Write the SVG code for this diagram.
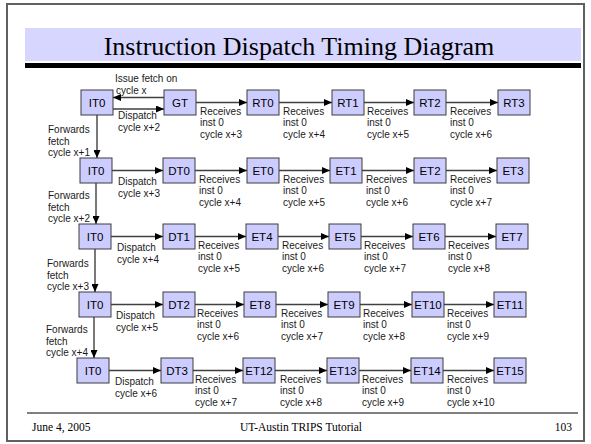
<svg xmlns="http://www.w3.org/2000/svg" width="591" height="444" viewBox="0 0 591 444">
<style>
.n rect{fill:#CCCCFF;stroke:#3c3c3c;stroke-width:1}
.n text{font-family:"Liberation Sans",Arial,sans-serif;font-size:11.5px;fill:#000;text-anchor:middle}
.lb{font-family:"Liberation Sans",Arial,sans-serif;font-size:10px;fill:#1a1a1a}
.ft{font-family:"Liberation Serif","Times New Roman",serif;font-size:11.5px;fill:#000}
#edges line{stroke:#404040;stroke-width:1.4;marker-end:url(#ah)}
</style>
<defs>
<marker id="ah" markerUnits="userSpaceOnUse" markerWidth="8" markerHeight="7" refX="8" refY="3.5" orient="auto">
<path d="M0,0 L8,3.5 L0,7 z" fill="#000"/>
</marker>
</defs>
<rect x="0" y="0" width="591" height="444" fill="#fff"/>
<rect x="7" y="4" width="577" height="437" fill="none" stroke="#606060" stroke-width="2"/>
<rect x="25" y="28" width="556" height="33" fill="#D6D6FF"/>
<rect x="25" y="63" width="556" height="5" fill="#000"/>
<text x="299" y="55" font-family="Liberation Serif,'Times New Roman',serif" font-size="26" text-anchor="middle" fill="#000">Instruction Dispatch Timing Diagram</text>
<line x1="27" y1="413" x2="578" y2="413" stroke="#000" stroke-width="1"/>
<text class="ft" x="32" y="431">June 4, 2005</text>
<text class="ft" x="301" y="431" text-anchor="middle">UT-Austin TRIPS Tutorial</text>
<text class="ft" x="572" y="431" text-anchor="end">103</text>

<g id="edges">
<!-- row 1 -->
<line x1="164" y1="97.5" x2="113" y2="97.5"/>
<line x1="113" y1="109" x2="164" y2="109"/>
<line x1="196" y1="102.5" x2="247" y2="102.5"/>
<line x1="279" y1="102.5" x2="332" y2="102.5"/>
<line x1="364" y1="102.5" x2="414" y2="102.5"/>
<line x1="446" y1="102.5" x2="498" y2="102.5"/>
<!-- verticals -->
<line x1="97" y1="115" x2="97" y2="158"/>
<line x1="96" y1="183" x2="96" y2="224"/>
<line x1="95" y1="249" x2="95" y2="292"/>
<line x1="94" y1="317" x2="94" y2="358"/>
<!-- row 2 -->
<line x1="112" y1="170.5" x2="163" y2="170.5"/>
<line x1="195" y1="170.5" x2="247" y2="170.5"/>
<line x1="279" y1="170.5" x2="330" y2="170.5"/>
<line x1="362" y1="170.5" x2="414" y2="170.5"/>
<line x1="446" y1="170.5" x2="497" y2="170.5"/>
<!-- row 3 -->
<line x1="111" y1="236.5" x2="163" y2="236.5"/>
<line x1="195" y1="236.5" x2="246" y2="236.5"/>
<line x1="278" y1="236.5" x2="329" y2="236.5"/>
<line x1="361" y1="236.5" x2="413" y2="236.5"/>
<line x1="445" y1="236.5" x2="496" y2="236.5"/>
<!-- row 4 -->
<line x1="111" y1="304.5" x2="163" y2="304.5"/>
<line x1="195" y1="304.5" x2="244" y2="304.5"/>
<line x1="276" y1="304.5" x2="328" y2="304.5"/>
<line x1="360" y1="304.5" x2="412" y2="304.5"/>
<line x1="444" y1="304.5" x2="494" y2="304.5"/>
<!-- row 5 -->
<line x1="109" y1="370.5" x2="161" y2="370.5"/>
<line x1="193" y1="370.5" x2="243" y2="370.5"/>
<line x1="275" y1="370.5" x2="327" y2="370.5"/>
<line x1="359" y1="370.5" x2="411" y2="370.5"/>
<line x1="443" y1="370.5" x2="494" y2="370.5"/>
</g>

<!-- row 1 nodes -->
<g id="r1-IT0" class="n"><rect x="81" y="90" width="32" height="25"/><text x="97" y="106.5">IT0</text></g>
<g id="GT" class="n"><rect x="164" y="90" width="32" height="25"/><text x="180" y="106.5">GT</text></g>
<g id="RT0" class="n"><rect x="247" y="90" width="32" height="25"/><text x="263" y="106.5">RT0</text></g>
<g id="RT1" class="n"><rect x="332" y="90" width="32" height="25"/><text x="348" y="106.5">RT1</text></g>
<g id="RT2" class="n"><rect x="414" y="90" width="32" height="25"/><text x="430" y="106.5">RT2</text></g>
<g id="RT3" class="n"><rect x="498" y="90" width="32" height="25"/><text x="514" y="106.5">RT3</text></g>
<!-- row 2 -->
<g id="r2-IT0" class="n"><rect x="80" y="158" width="32" height="25"/><text x="96" y="174.5">IT0</text></g>
<g id="DT0" class="n"><rect x="163" y="158" width="32" height="25"/><text x="179" y="174.5">DT0</text></g>
<g id="ET0" class="n"><rect x="247" y="158" width="32" height="25"/><text x="263" y="174.5">ET0</text></g>
<g id="ET1" class="n"><rect x="330" y="158" width="32" height="25"/><text x="346" y="174.5">ET1</text></g>
<g id="ET2" class="n"><rect x="414" y="158" width="32" height="25"/><text x="430" y="174.5">ET2</text></g>
<g id="ET3" class="n"><rect x="497" y="158" width="32" height="25"/><text x="513" y="174.5">ET3</text></g>
<!-- row 3 -->
<g id="r3-IT0" class="n"><rect x="79" y="224" width="32" height="25"/><text x="95" y="240.5">IT0</text></g>
<g id="DT1" class="n"><rect x="163" y="224" width="32" height="25"/><text x="179" y="240.5">DT1</text></g>
<g id="ET4" class="n"><rect x="246" y="224" width="32" height="25"/><text x="262" y="240.5">ET4</text></g>
<g id="ET5" class="n"><rect x="329" y="224" width="32" height="25"/><text x="345" y="240.5">ET5</text></g>
<g id="ET6" class="n"><rect x="413" y="224" width="32" height="25"/><text x="429" y="240.5">ET6</text></g>
<g id="ET7" class="n"><rect x="496" y="224" width="32" height="25"/><text x="512" y="240.5">ET7</text></g>
<!-- row 4 -->
<g id="r4-IT0" class="n"><rect x="79" y="292" width="32" height="25"/><text x="95" y="308.5">IT0</text></g>
<g id="DT2" class="n"><rect x="163" y="292" width="32" height="25"/><text x="179" y="308.5">DT2</text></g>
<g id="ET8" class="n"><rect x="244" y="292" width="32" height="25"/><text x="260" y="308.5">ET8</text></g>
<g id="ET9" class="n"><rect x="328" y="292" width="32" height="25"/><text x="344" y="308.5">ET9</text></g>
<g id="ET10" class="n"><rect x="412" y="292" width="32" height="25"/><text x="428" y="308.5">ET10</text></g>
<g id="ET11" class="n"><rect x="494" y="292" width="32" height="25"/><text x="510" y="308.5">ET11</text></g>
<!-- row 5 -->
<g id="r5-IT0" class="n"><rect x="77" y="358" width="32" height="25"/><text x="93" y="374.5">IT0</text></g>
<g id="DT3" class="n"><rect x="161" y="358" width="32" height="25"/><text x="177" y="374.5">DT3</text></g>
<g id="ET12" class="n"><rect x="243" y="358" width="32" height="25"/><text x="259" y="374.5">ET12</text></g>
<g id="ET13" class="n"><rect x="327" y="358" width="32" height="25"/><text x="343" y="374.5">ET13</text></g>
<g id="ET14" class="n"><rect x="411" y="358" width="32" height="25"/><text x="427" y="374.5">ET14</text></g>
<g id="ET15" class="n"><rect x="494" y="358" width="32" height="25"/><text x="510" y="374.5">ET15</text></g>

<g id="labels">
<text class="lb" x="115" y="82">Issue fetch on</text>
<text class="lb" x="116" y="94">cycle x</text>
<text class="lb"><tspan x="118" y="119">Dispatch</tspan><tspan x="118" dy="11.5">cycle x+2</tspan></text>
<text class="lb"><tspan x="200" y="114.5">Receives</tspan><tspan x="200" dy="11.5">inst 0</tspan><tspan x="200" dy="11.5">cycle x+3</tspan></text>
<text class="lb"><tspan x="283" y="114.5">Receives</tspan><tspan x="283" dy="11.5">inst 0</tspan><tspan x="283" dy="11.5">cycle x+4</tspan></text>
<text class="lb"><tspan x="367" y="114.5">Receives</tspan><tspan x="367" dy="11.5">inst 0</tspan><tspan x="367" dy="11.5">cycle x+5</tspan></text>
<text class="lb"><tspan x="450" y="114.5">Receives</tspan><tspan x="450" dy="11.5">inst 0</tspan><tspan x="450" dy="11.5">cycle x+6</tspan></text>
<text class="lb"><tspan x="48" y="133">Forwards</tspan><tspan x="48" dy="11.5">fetch</tspan><tspan x="48" dy="11.5">cycle x+1</tspan></text>

<text class="lb"><tspan x="118" y="185">Dispatch</tspan><tspan x="118" dy="11.5">cycle x+3</tspan></text>
<text class="lb"><tspan x="199" y="182.5">Receives</tspan><tspan x="199" dy="11.5">inst 0</tspan><tspan x="199" dy="11.5">cycle x+4</tspan></text>
<text class="lb"><tspan x="283" y="182.5">Receives</tspan><tspan x="283" dy="11.5">inst 0</tspan><tspan x="283" dy="11.5">cycle x+5</tspan></text>
<text class="lb"><tspan x="366" y="182.5">Receives</tspan><tspan x="366" dy="11.5">inst 0</tspan><tspan x="366" dy="11.5">cycle x+6</tspan></text>
<text class="lb"><tspan x="450" y="182.5">Receives</tspan><tspan x="450" dy="11.5">inst 0</tspan><tspan x="450" dy="11.5">cycle x+7</tspan></text>
<text class="lb"><tspan x="48" y="199">Forwards</tspan><tspan x="48" dy="11.5">fetch</tspan><tspan x="48" dy="11.5">cycle x+2</tspan></text>

<text class="lb"><tspan x="117" y="251">Dispatch</tspan><tspan x="117" dy="11.5">cycle x+4</tspan></text>
<text class="lb"><tspan x="198" y="248.5">Receives</tspan><tspan x="198" dy="11.5">inst 0</tspan><tspan x="198" dy="11.5">cycle x+5</tspan></text>
<text class="lb"><tspan x="282" y="248.5">Receives</tspan><tspan x="282" dy="11.5">inst 0</tspan><tspan x="282" dy="11.5">cycle x+6</tspan></text>
<text class="lb"><tspan x="364" y="248.5">Receives</tspan><tspan x="364" dy="11.5">inst 0</tspan><tspan x="364" dy="11.5">cycle x+7</tspan></text>
<text class="lb"><tspan x="448" y="248.5">Receives</tspan><tspan x="448" dy="11.5">inst 0</tspan><tspan x="448" dy="11.5">cycle x+8</tspan></text>
<text class="lb"><tspan x="47" y="267">Forwards</tspan><tspan x="47" dy="11.5">fetch</tspan><tspan x="47" dy="11.5">cycle x+3</tspan></text>

<text class="lb"><tspan x="116" y="319">Dispatch</tspan><tspan x="116" dy="11.5">cycle x+5</tspan></text>
<text class="lb"><tspan x="197" y="316.5">Receives</tspan><tspan x="197" dy="11.5">inst 0</tspan><tspan x="197" dy="11.5">cycle x+6</tspan></text>
<text class="lb"><tspan x="281" y="316.5">Receives</tspan><tspan x="281" dy="11.5">inst 0</tspan><tspan x="281" dy="11.5">cycle x+7</tspan></text>
<text class="lb"><tspan x="363" y="316.5">Receives</tspan><tspan x="363" dy="11.5">inst 0</tspan><tspan x="363" dy="11.5">cycle x+8</tspan></text>
<text class="lb"><tspan x="447" y="316.5">Receives</tspan><tspan x="447" dy="11.5">inst 0</tspan><tspan x="447" dy="11.5">cycle x+9</tspan></text>
<text class="lb"><tspan x="46" y="333">Forwards</tspan><tspan x="46" dy="11.5">fetch</tspan><tspan x="46" dy="11.5">cycle x+4</tspan></text>

<text class="lb"><tspan x="115" y="385">Dispatch</tspan><tspan x="115" dy="11.5">cycle x+6</tspan></text>
<text class="lb"><tspan x="195" y="382.5">Receives</tspan><tspan x="195" dy="11.5">inst 0</tspan><tspan x="195" dy="11.5">cycle x+7</tspan></text>
<text class="lb"><tspan x="280" y="382.5">Receives</tspan><tspan x="280" dy="11.5">inst 0</tspan><tspan x="280" dy="11.5">cycle x+8</tspan></text>
<text class="lb"><tspan x="362" y="382.5">Receives</tspan><tspan x="362" dy="11.5">inst 0</tspan><tspan x="362" dy="11.5">cycle x+9</tspan></text>
<text class="lb"><tspan x="447" y="382.5">Receives</tspan><tspan x="447" dy="11.5">inst 0</tspan><tspan x="447" dy="11.5">cycle x+10</tspan></text>
</g>
</svg>
